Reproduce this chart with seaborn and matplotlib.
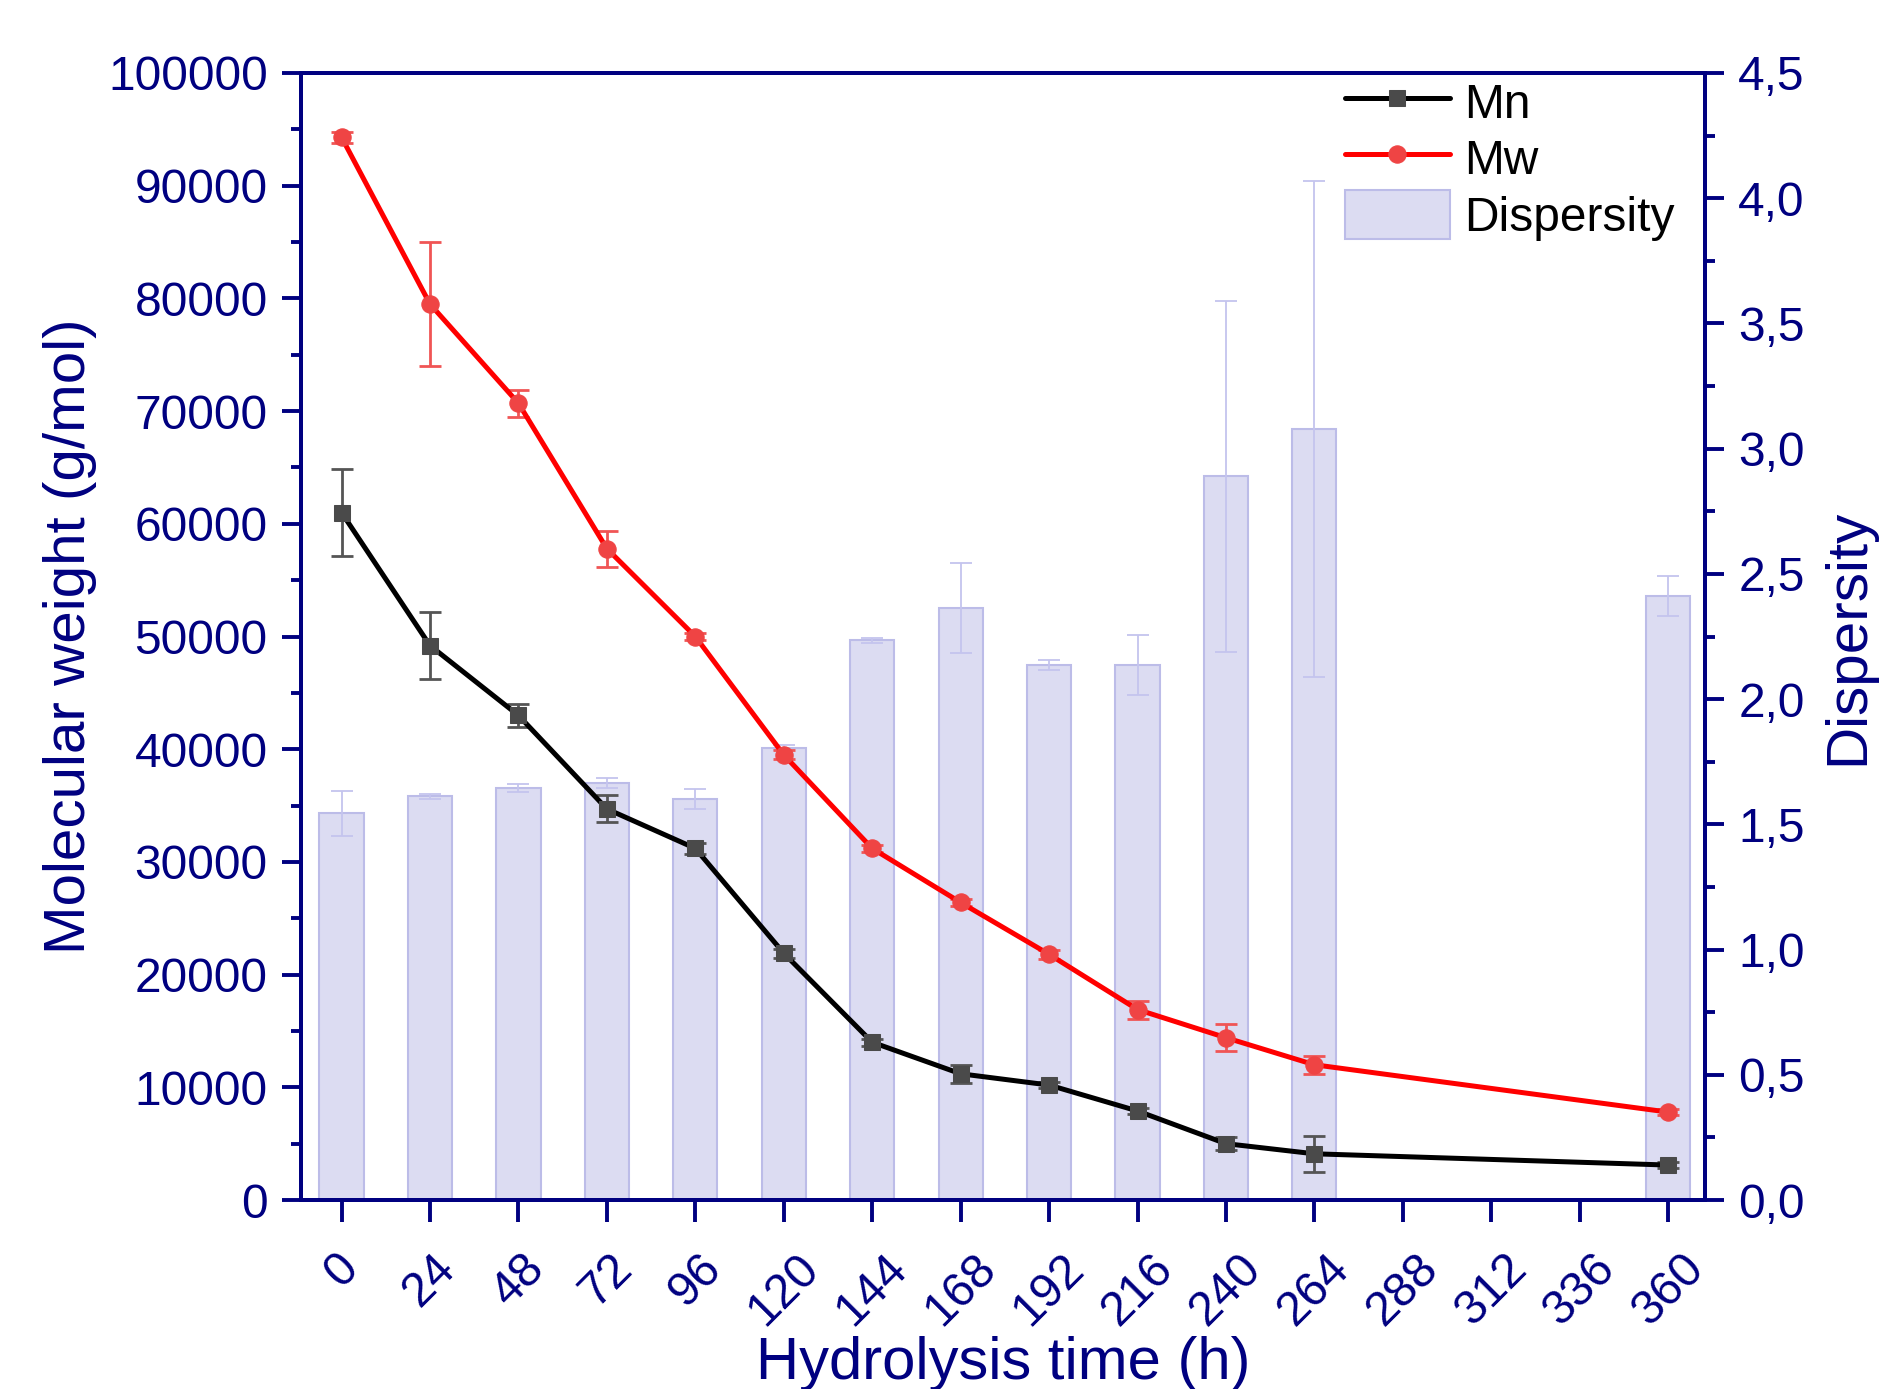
import matplotlib
matplotlib.use("Agg")
import matplotlib.pyplot as plt
import seaborn as sns
import numpy as np
import pandas as pd
from matplotlib.ticker import MultipleLocator, FuncFormatter

sns.set_theme(style="white")
plt.rcParams['font.family'] = ['Liberation Sans', 'DejaVu Sans']

hours = [0, 24, 48, 72, 96, 120, 144, 168, 192, 216, 240, 264, 360]
mn = [61000, 49200, 43000, 34700, 31200, 21900, 14000, 11200, 10200, 7900, 5000, 4100, 3100]
mn_err = [3900, 3000, 1000, 1200, 500, 400, 300, 800, 300, 300, 600, 1600, 300]
mw = [94300, 79500, 70700, 57800, 50000, 39500, 31200, 26400, 21800, 16900, 14400, 12000, 7800]
mw_err = [500, 5500, 1200, 1600, 300, 400, 300, 300, 400, 800, 1200, 800, 300]
disp = [1.545, 1.613, 1.645, 1.665, 1.603, 1.805, 2.236, 2.365, 2.135, 2.135, 2.889, 3.079, 2.41]
disp_err = [0.09, 0.01, 0.015, 0.02, 0.04, 0.01, 0.01, 0.18, 0.02, 0.12, 0.70, 0.99, 0.08]
xticks = list(range(0, 361, 24))

NAVY = '#000080'

df = pd.DataFrame({'h': hours, 'mn': mn, 'mw': mw, 'disp': disp})

fig = plt.figure(figsize=(18.83, 13.89), dpi=100)
ax = fig.add_axes([301/1883, 1-1200/1389, (1705-301)/1883, (1200-73)/1389])
ax2 = ax.twinx()

# bars on right axis (behind)
sns.barplot(data=df, x='h', y='disp', native_scale=True, width=0.5,
            color='#dcdcf2', edgecolor='#bcbce8', linewidth=1.5,
            errorbar=None, ax=ax2, saturation=1)
ax2.errorbar(hours, disp, yerr=disp_err, fmt='none', ecolor='#c4c4ee',
             elinewidth=1.3, capsize=8, capthick=1.3, zorder=3)

ax.set_zorder(ax2.get_zorder() + 1)
ax.patch.set_visible(False)

ax.errorbar(hours, mn, yerr=mn_err, fmt='none', ecolor='#555555',
            elinewidth=2, capsize=8, capthick=2, zorder=2)
ax.errorbar(hours, mw, yerr=mw_err, fmt='none', ecolor='#f05555',
            elinewidth=2, capsize=8, capthick=2, zorder=2)
sns.lineplot(data=df, x='h', y='mn', marker='s', markersize=11.5, color='black',
             markerfacecolor='#4a4a4a', markeredgecolor='#4a4a4a',
             linewidth=3.6, ax=ax, label='Mn', zorder=3)
sns.lineplot(data=df, x='h', y='mw', marker='o', markersize=12.5, color='#ff0000',
             markerfacecolor='#ef4444', markeredgecolor='#ef4444',
             linewidth=3.6, ax=ax, label='Mw', zorder=3)

ax.set_xlim(-11, 370)
ax.set_ylim(0, 100000)
ax2.set_ylim(0, 4.5)

ax.set_xticks(xticks)
ax.set_xticklabels([str(t) for t in xticks], rotation=45, ha='center')
ax.yaxis.set_major_locator(MultipleLocator(10000))
ax.yaxis.set_minor_locator(MultipleLocator(5000))
ax2.yaxis.set_major_locator(MultipleLocator(0.5))
ax2.yaxis.set_minor_locator(MultipleLocator(0.25))
ax2.yaxis.set_major_formatter(FuncFormatter(lambda v, p: f"{v:.1f}".replace('.', ',')))

for a in (ax, ax2):
    for s in a.spines.values():
        s.set_color(NAVY)
        s.set_linewidth(2.8)
        s.set_visible(True)

ax.tick_params(axis='y', which='major', direction='out', length=14, width=2.8,
               colors=NAVY, labelsize=34.5, pad=10, left=True, right=False)
ax.tick_params(axis='y', which='minor', direction='out', length=7, width=2.8,
               colors=NAVY, left=True)
ax.tick_params(axis='x', which='major', direction='out', length=16, width=2.8,
               colors=NAVY, labelsize=34.5, pad=17, bottom=True)
ax2.tick_params(axis='y', which='major', direction='out', length=14, width=2.8,
                colors=NAVY, labelsize=34.5, pad=10, right=True)
ax2.tick_params(axis='y', which='minor', direction='out', length=7, width=2.8,
                colors=NAVY, right=True)
ax2.set_xlim(-11, 370)

ax.set_xlabel('Hydrolysis time (h)', fontsize=43, color=NAVY, labelpad=1)
ax.set_ylabel('Molecular weight (g/mol)', fontsize=42, color=NAVY, labelpad=8)
ax2.set_ylabel('Dispersity', fontsize=42, color=NAVY, labelpad=12)

h1, l1 = ax.get_legend_handles_labels()
h2 = [ax2.patches[0]]
leg = ax.legend(h1 + h2, l1 + ['Dispersity'], loc='upper right',
                bbox_to_anchor=(1694/1883, 1-58/1389), bbox_transform=fig.transFigure,
                frameon=False, fontsize=34.5, handlelength=2.2, handleheight=1.2,
                handletextpad=0.3, labelspacing=0.12, borderaxespad=0)
for t in leg.get_texts():
    t.set_color('black')

fig.savefig('out.png', dpi=100)
